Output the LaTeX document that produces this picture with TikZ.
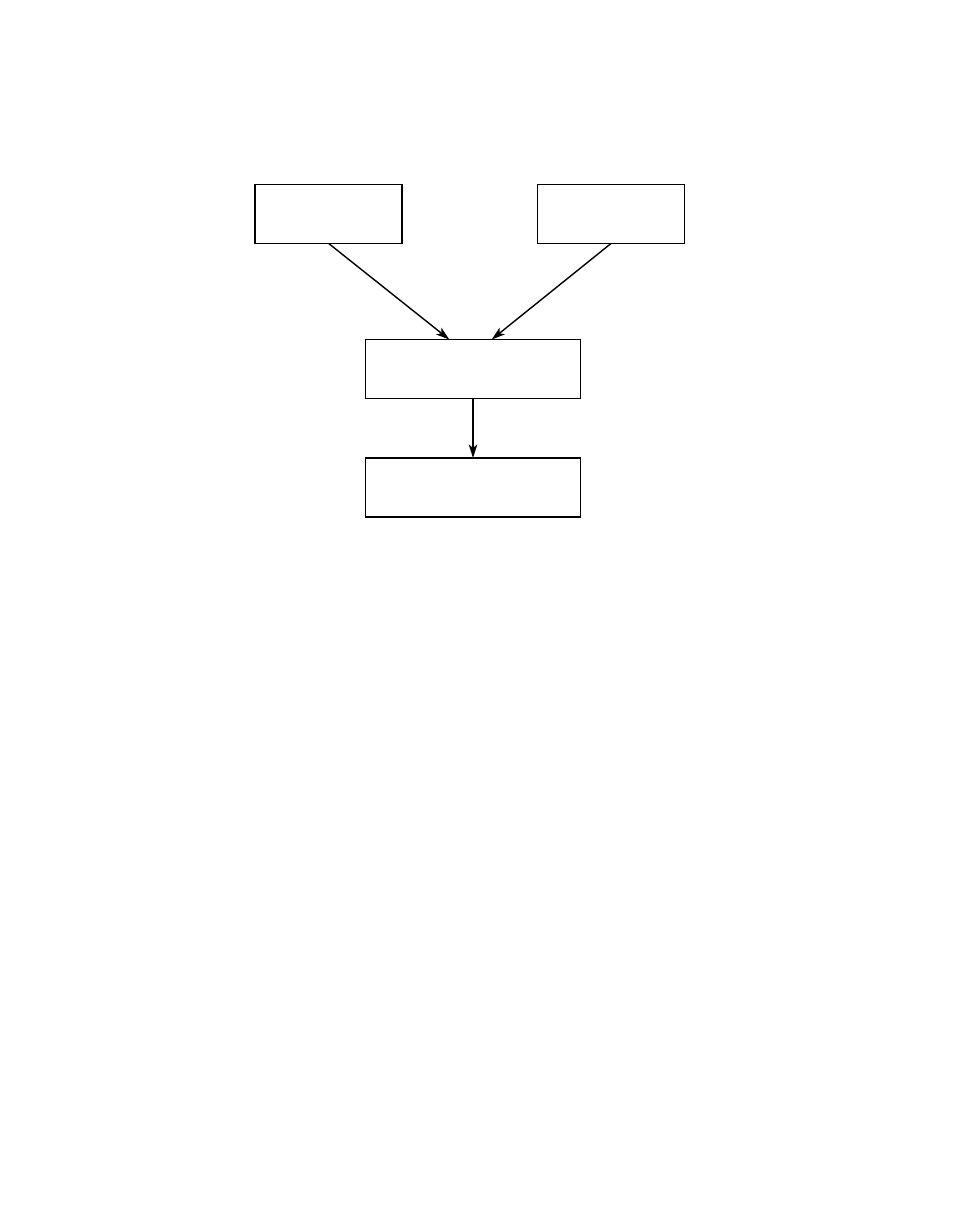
\documentclass[tikz,border=0pt]{standalone}
\usetikzlibrary{positioning,arrows.meta}

\begin{document}
\begin{tikzpicture}[font=\small,
    blk/.style={rectangle,draw=black,line width=1pt,inner sep=0pt,outer sep=0pt,minimum height=1.18cm},
    flow/.style={black,line width=0.8pt,-{Stealth[length=0.27cm,width=0.17cm,inset=0.07cm]}}]
      \useasboundingbox (0,0) rectangle (19.08,-24.54);

      %top boxes
      \node[blk,minimum width=2.94cm] (srcA) at (6.574,-4.28) {};
      \node[blk,minimum width=2.94cm] (srcB) at (12.22,-4.28) {};
      %middle box
      \node[blk,minimum width=4.3cm] (merge) at (9.46,-7.38) {};
      %bottom box
      \node[blk,minimum width=4.3cm] (result) at (9.46,-9.75) {};

      %inputs on the middle box
      \coordinate (inA) at ([xshift=-0.474cm]merge.north);
      \coordinate (inB) at ([xshift=0.374cm]merge.north);

      %arrows
      \draw[flow] (srcA.south) -- (inA);
      \draw[flow] (srcB.south) -- (inB);
      \draw[flow] (merge.south) -- (result.north);
    \end{tikzpicture}
\end{document}
